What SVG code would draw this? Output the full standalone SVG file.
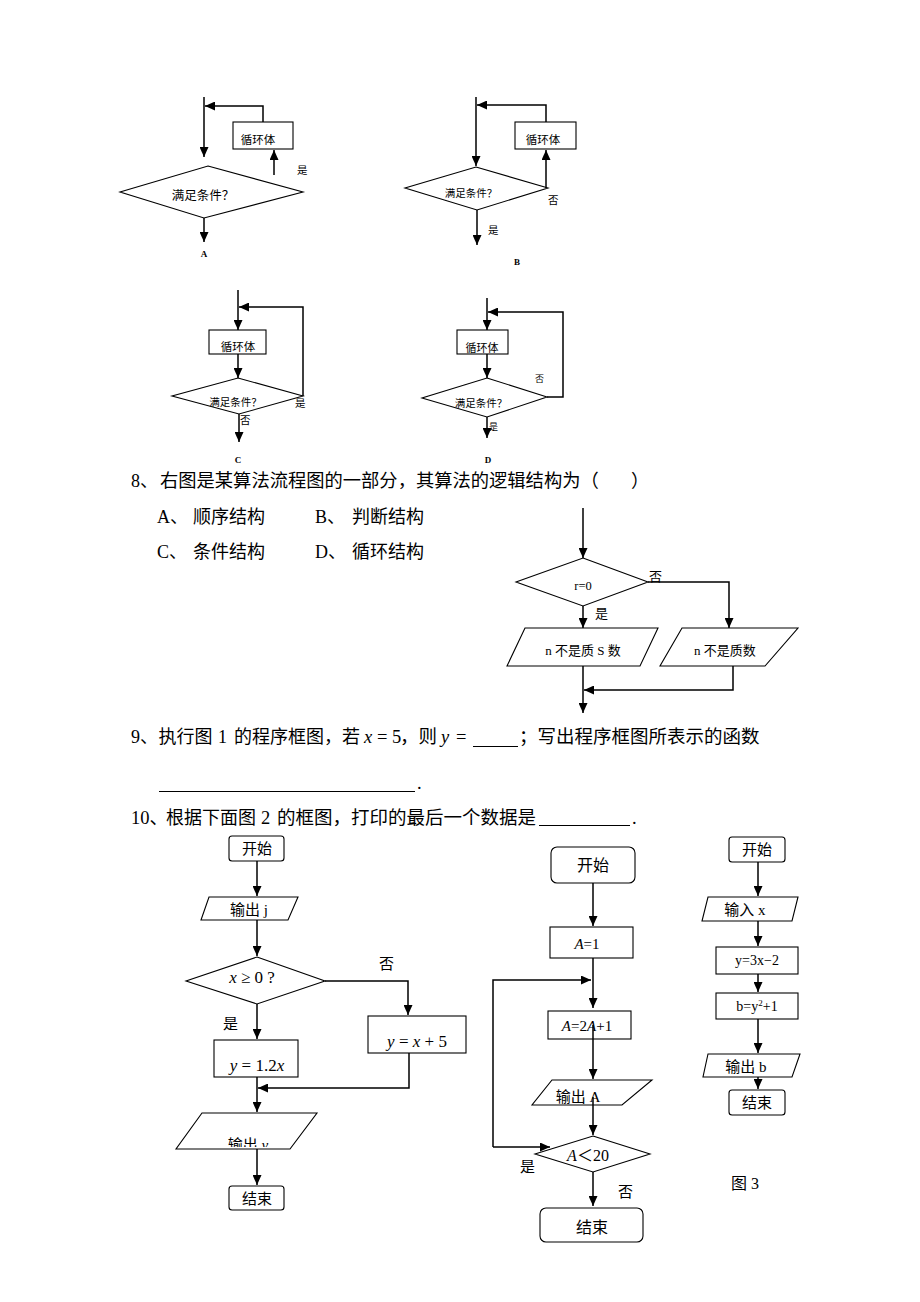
<svg xmlns="http://www.w3.org/2000/svg" width="920" height="1302" viewBox="0 0 920 1302">
<style>
.shape{fill:none;stroke:#000;stroke-width:1.1}
.ln{fill:none;stroke:#000;stroke-width:1.5}
.arr{fill:none;stroke:#000;stroke-width:1.5;marker-end:url(#ah)}
.t{font-family:"Liberation Serif","Noto Sans CJK SC",serif;fill:#000}
.c{text-anchor:middle}
.lbl{font-family:"Liberation Serif",serif;font-weight:bold;font-size:9px;text-anchor:middle}
.it{font-style:italic}
</style>
<defs>
<marker id="ah" markerUnits="userSpaceOnUse" markerWidth="11" markerHeight="9" refX="10" refY="4.5" orient="auto">
<path d="M0,0 L10,4.5 L0,9 Z" fill="#000"/>
</marker>
<clipPath id="clipY"><rect x="170" y="1110" width="160" height="37"/></clipPath>
</defs>
<rect width="920" height="1302" fill="#fff"/>

<!-- Chart A -->
<g id="chartA">
<rect class="shape" x="233" y="122" width="60" height="27"/>
<text class="t c" x="258" y="144" font-size="11.5">循环体</text>
<path class="shape" d="M208,166 L303,192 L204,218 L120,192 Z"/>
<text class="t c" x="203" y="199.5" font-size="12.5">满足条件？</text>
<text class="t" x="297" y="174" font-size="10.5">是</text>
<text class="lbl" x="204" y="257">A</text>
</g>
<!-- Chart B -->
<g id="chartB">
<rect class="shape" x="515" y="122" width="61" height="27"/>
<text class="t c" x="543" y="144" font-size="11.5">循环体</text>
<path class="shape" d="M476,167 L548,188 L477,210 L405,188 Z"/>
<text class="t c" x="471" y="197" font-size="10.5">满足条件？</text>
<text class="t" x="548" y="204" font-size="10.5">否</text>
<text class="t" x="488" y="234" font-size="10.5">是</text>
<text class="lbl" x="517" y="265">B</text>
</g>
<!-- Chart C -->
<g id="chartC">
<rect class="shape" x="209" y="330" width="57" height="24"/>
<text class="t c" x="238" y="351" font-size="11.5">循环体</text>
<path class="shape" d="M238,378 L303,396 L239,414 L172,396 Z"/>
<text class="t c" x="235.5" y="405.5" font-size="10.5">满足条件？</text>
<text class="t" x="295" y="407" font-size="10.5">是</text>
<text class="t" x="240" y="424" font-size="10.5">否</text>
<text class="lbl" x="238" y="463">C</text>
</g>
<!-- Chart D -->
<g id="chartD">
<rect class="shape" x="457" y="330" width="51" height="24"/>
<text class="t c" x="482" y="351.5" font-size="11">循环体</text>
<path class="shape" d="M487,378 L547,397 L487,417 L422,398 Z"/>
<text class="t c" x="481" y="407" font-size="10.5">满足条件？</text>
<text class="t" x="535" y="382" font-size="9">否</text>
<text class="t" x="489" y="430" font-size="9">是</text>
<text class="lbl" x="488" y="463">D</text>
</g>

<!-- Question 8 -->
<g id="q8text">
<text class="t" x="131" y="486.5" font-size="18">8、</text>
<text class="t" x="160" y="486.5" font-size="18.3">右图是某算法流程图的一部分，其算法的逻辑结构为（</text>
<text class="t" x="631" y="486.5" font-size="18">）</text>
<text class="t" x="157" y="523" font-size="18">A、</text>
<text class="t" x="193" y="523" font-size="18">顺序结构</text>
<text class="t" x="315" y="523" font-size="18">B、</text>
<text class="t" x="352" y="523" font-size="18">判断结构</text>
<text class="t" x="157" y="558" font-size="18">C、</text>
<text class="t" x="193" y="558" font-size="18">条件结构</text>
<text class="t" x="315" y="558" font-size="18">D、</text>
<text class="t" x="352" y="558" font-size="18">循环结构</text>
</g>
<g id="q8chart">
<path class="shape" d="M583,558 L648,582 L583,606 L516,582 Z"/>
<text class="t c" x="583" y="590" font-size="12.5">r=0</text>
<text class="t" x="649" y="581" font-size="13">否</text>
<text class="t" x="595" y="618" font-size="13">是</text>
<path class="shape" d="M525,628 H658 L640,666 H507 Z"/>
<text class="t c" x="583" y="655" font-size="13">n 不是质 S 数</text>
<path class="shape" d="M682,628 H798 L765,666 H660 Z"/>
<text class="t c" x="725" y="655" font-size="13">n 不是质数</text>
</g>

<!-- Question 9 / 10 text -->
<g id="q9text">
<text class="t" x="131" y="743" font-size="18">9、</text>
<text class="t" x="158.5" y="743" font-size="18">执行图</text>
<text class="t" x="218" y="743" font-size="18">1</text>
<text class="t" x="234" y="743" font-size="18">的程序框图，若</text>
<text class="t it" x="364" y="743" font-size="18.5">x</text>
<text class="t" x="377" y="743" font-size="18.5">=</text>
<text class="t" x="392" y="743" font-size="18.5">5</text>
<text class="t" x="400" y="743" font-size="18.5">，则</text>
<text class="t it" x="441" y="743" font-size="18.5">y</text>
<text class="t" x="456" y="743" font-size="18.5">=</text>
<line class="shape" x1="473" y1="746.5" x2="518" y2="746.5"/>
<text class="t" x="519" y="743" font-size="18.5">；写出程序框图所表示的函数</text>
<line class="shape" x1="159" y1="791.5" x2="415" y2="791.5"/>
<text class="t" x="417" y="789" font-size="18.5">.</text>
<text class="t" x="131" y="824" font-size="18.5">10、</text>
<text class="t" x="166" y="824" font-size="18">根据下面图</text>
<text class="t" x="261" y="824" font-size="18.5">2</text>
<text class="t" x="277" y="824" font-size="18.5">的框图，打印的最后一个数据是</text>
<line class="shape" x1="539" y1="825.5" x2="630" y2="825.5"/>
<text class="t" x="632" y="824" font-size="18.5">.</text>
</g>

<!-- Figure 1 -->
<g id="fig1_start"><rect class="shape" x="229" y="836" width="55" height="25" rx="3"/><text class="t c" x="257" y="854" font-size="15">开始</text></g>
<g id="fig1_out_j"><path class="shape" d="M209,897 H298 L288,920 H201 Z"/><text class="t c" x="249" y="915" font-size="15">输出 j</text></g>
<g id="fig1_cond"><path class="shape" d="M257,957 L325,981 L257,1004 L186,981 Z"/><text class="t c" x="252" y="983" font-size="17"><tspan class="it">x</tspan> ≥ 0 ?</text>
<text class="t" x="379" y="969" font-size="15">否</text><text class="t" x="223" y="1029" font-size="15">是</text></g>
<g id="fig1_yx5"><rect class="shape" x="368" y="1016" width="98" height="37"/><text class="t c" x="417" y="1047" font-size="17"><tspan class="it">y</tspan> = <tspan class="it">x</tspan> + 5</text></g>
<g id="fig1_y12"><rect class="shape" x="214" y="1040" width="84" height="37"/><text class="t c" x="257" y="1071" font-size="17"><tspan class="it">y</tspan> = 1.2<tspan class="it">x</tspan></text></g>
<g id="fig1_out_y"><path class="shape" d="M202,1113 H317 L290,1149 H176 Z"/><text class="t c" x="248" y="1150" font-size="15" clip-path="url(#clipY)">输出 <tspan class="it">y</tspan></text></g>
<g id="fig1_end"><rect class="shape" x="229" y="1186" width="55" height="24" rx="3"/><text class="t c" x="257" y="1204" font-size="15">结束</text></g>

<!-- Figure 2 -->
<g id="fig2_start"><rect class="shape" x="551" y="847" width="84" height="36" rx="6"/><text class="t c" x="593" y="871" font-size="16">开始</text></g>
<g id="fig2_a1"><rect class="shape" x="550" y="927" width="83" height="31"/><text class="t c" x="587" y="949" font-size="15"><tspan class="it">A</tspan>=1</text></g>
<g id="fig2_a2"><rect class="shape" x="548" y="1011" width="83" height="28"/><text class="t c" x="587" y="1031" font-size="15"><tspan class="it">A</tspan>=2<tspan class="it">A</tspan>+1</text></g>
<g id="fig2_out"><path class="shape" d="M552,1080 H652 L622,1105 H532 Z"/><text class="t c" x="578" y="1102" font-size="15">输出 A</text></g>
<g id="fig2_cond"><path class="shape" d="M593,1136 L650,1154 L593,1172 L535,1154 Z"/><text class="t c" x="588" y="1161" font-size="16"><tspan class="it">A</tspan>＜20</text>
<text class="t" x="520" y="1172" font-size="15">是</text><text class="t" x="618" y="1197" font-size="15">否</text></g>
<g id="fig2_end"><rect class="shape" x="540" y="1208" width="103" height="34" rx="6"/><text class="t c" x="592" y="1233" font-size="16">结束</text></g>

<!-- Figure 3 -->
<g id="fig3_start"><rect class="shape" x="729" y="837" width="56" height="25" rx="3"/><text class="t c" x="757" y="855" font-size="15">开始</text></g>
<g id="fig3_in"><path class="shape" d="M708,897 H798 L792,921 H702 Z"/><text class="t c" x="745" y="915" font-size="15">输入 x</text></g>
<g id="fig3_y"><rect class="shape" x="716" y="947" width="82" height="27"/><text class="t c" x="757" y="965" font-size="14">y=3x−2</text></g>
<g id="fig3_b"><rect class="shape" x="716" y="993" width="82" height="26"/><text class="t c" x="757" y="1011" font-size="14">b=y<tspan font-size="9" dy="-5">2</tspan><tspan dy="5">+1</tspan></text></g>
<g id="fig3_out"><path class="shape" d="M708,1054 H800 L792,1077 H703 Z"/><text class="t c" x="746" y="1072" font-size="15">输出 b</text></g>
<g id="fig3_end"><rect class="shape" x="729" y="1090" width="56" height="25" rx="3"/><text class="t c" x="757" y="1108" font-size="15">结束</text></g>
<g id="fig3_caption"><text class="t c" x="745" y="1189" font-size="16">图 3</text></g>

<!-- Connectors -->
<g id="connectors">
<path class="arr" d="M204,97 V157"/>
<path class="arr" d="M263,122 V106 H205"/>
<path class="arr" d="M274,175 V150"/>
<path class="arr" d="M204,218 V242"/>

<path class="arr" d="M476,97 V166"/>
<path class="arr" d="M546,122 V105 H477"/>
<path class="arr" d="M546,188 V150"/>
<path class="arr" d="M477,210 V245"/>

<path class="arr" d="M238,290 V330"/>
<path class="arr" d="M303,396 V307 H239"/>
<path class="arr" d="M238,354 V378"/>
<path class="arr" d="M239,414 V442"/>

<path class="arr" d="M487,298 V330"/>
<path class="arr" d="M547,397 H563 V312 H488"/>
<path class="arr" d="M487,354 V378"/>
<path class="arr" d="M487,417 V438"/>

<path class="arr" d="M583,508 V558"/>
<path class="arr" d="M648,582 H729 V628"/>
<path class="arr" d="M583,606 V628"/>
<path class="arr" d="M583,666 V713"/>
<path class="arr" d="M733,666 V690 H584"/>

<path class="arr" d="M257,861 V896"/>
<path class="arr" d="M257,920 V956"/>
<path class="arr" d="M325,981 H408 V1015"/>
<path class="arr" d="M257,1004 V1039"/>
<path class="arr" d="M409,1053 V1088 H258"/>
<path class="arr" d="M257,1077 V1112"/>
<path class="arr" d="M257,1149 V1185"/>

<path class="arr" d="M593,883 V926"/>
<path class="arr" d="M593,958 V1008"/>
<path class="arr" d="M593,1025 V1079"/>
<path class="arr" d="M593,1097 V1135"/>
<path class="arr" d="M493,1147 V980 H591"/>
<path class="arr" d="M493,1147 H550"/>
<path class="arr" d="M593,1172 V1206"/>

<path class="arr" d="M758,862 V896"/>
<path class="arr" d="M758,921 V946"/>
<path class="arr" d="M758,974 V992"/>
<path class="arr" d="M758,1019 V1053"/>
<path class="arr" d="M758,1077 V1089"/>
</g>
</svg>
